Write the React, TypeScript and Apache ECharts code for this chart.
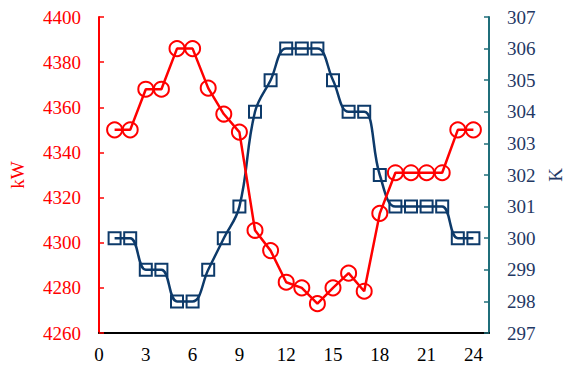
import React, { useEffect, useRef } from "react";
import * as echarts from "echarts";

const hours = [1, 2, 3, 4, 5, 6, 7, 8, 9, 10, 11, 12, 13, 14, 15, 16, 17, 18, 19, 20, 21, 22, 23, 24];
const powerKW = [4350, 4350, 4368, 4368, 4386, 4386, 4368.5, 4357, 4349, 4305.5, 4296.5, 4282.5, 4280, 4273, 4280, 4286.5, 4278.5, 4313, 4331, 4331, 4331, 4331, 4350, 4350];
const tempK = [300, 300, 299, 299, 298, 298, 299, 300, 301, 304, 305, 306, 306, 306, 305, 304, 304, 302, 301, 301, 301, 301, 300, 300];

const FONT = "'Liberation Serif', 'Times New Roman', serif";
const RED = "#ff0000";
const NAVY = "#0d3a6a";
const NAVY_TEXT = "#1f3864";
const TEAL = "#1f6e7a";

export default function App() {
  const ref = useRef<HTMLDivElement>(null);
  useEffect(() => {
    if (!ref.current) return;
    const chart = echarts.init(ref.current, null, { renderer: "svg" });
    chart.setOption({
      animation: false,
      backgroundColor: "#ffffff",
      grid: { left: 99, right: 76, top: 17, bottom: 34, containLabel: false, outerBoundsMode: "none" },
      xAxis: {
        type: "value",
        min: 0,
        max: 25,
        interval: 3,
        axisLine: { show: true, lineStyle: { color: "#000", width: 2 } },
        axisTick: { show: false },
        splitLine: { show: false },
        axisLabel: {
          color: "#000",
          fontFamily: FONT,
          fontSize: 19,
          margin: 12,
          showMaxLabel: false,
          formatter: (v: number) => (v % 3 === 0 ? String(v) : ""),
        },
      },
      yAxis: [
        {
          type: "value",
          min: 4260,
          max: 4400,
          interval: 20,
          position: "left",
          name: "kW",
          nameLocation: "middle",
          nameRotate: 90,
          nameGap: 72,
          nameTextStyle: { color: RED, fontFamily: FONT, fontSize: 19 },
          axisLine: { show: true, lineStyle: { color: RED, width: 2 } },
          axisTick: { show: true, inside: true, length: 5, lineStyle: { color: RED, width: 1.5 } },
          splitLine: { show: false },
          axisLabel: { color: RED, fontFamily: FONT, fontSize: 19, margin: 18, formatter: (v: number) => String(v) },
        },
        {
          type: "value",
          min: 297,
          max: 307,
          interval: 1,
          position: "right",
          name: "K",
          nameLocation: "middle",
          nameRotate: 90,
          nameGap: 54,
          nameTextStyle: { color: NAVY_TEXT, fontFamily: FONT, fontSize: 19 },
          axisLine: { show: true, lineStyle: { color: TEAL, width: 2 } },
          axisTick: { show: true, inside: true, length: 5, lineStyle: { color: TEAL, width: 1.5 } },
          splitLine: { show: false },
          axisLabel: { color: NAVY_TEXT, fontFamily: FONT, fontSize: 19, margin: 18, formatter: (v: number) => String(v) },
        },
      ],
      series: [
        {
          type: "line",
          yAxisIndex: 1,
          data: hours.map((h, i) => [h, tempK[i]]),
          smooth: 0.4,
          symbol: "rect",
          symbolSize: 12,
          lineStyle: { color: NAVY, width: 2.5 },
          itemStyle: { color: "rgba(0,0,0,0)", borderColor: NAVY, borderWidth: 2 },
          z: 2,
        },
        {
          type: "line",
          yAxisIndex: 0,
          data: hours.map((h, i) => [h, powerKW[i]]),
          symbol: "circle",
          symbolSize: 15,
          lineStyle: { color: RED, width: 2.5 },
          itemStyle: { color: "rgba(0,0,0,0)", borderColor: RED, borderWidth: 2 },
          z: 3,
        },
      ],
    });
    return () => chart.dispose();
  }, []);
  return (
    <div
      ref={ref}
      style={{ position: "absolute", left: 0, top: 0, width: 565, height: 367, overflow: "hidden" }}
    />
  );
}
